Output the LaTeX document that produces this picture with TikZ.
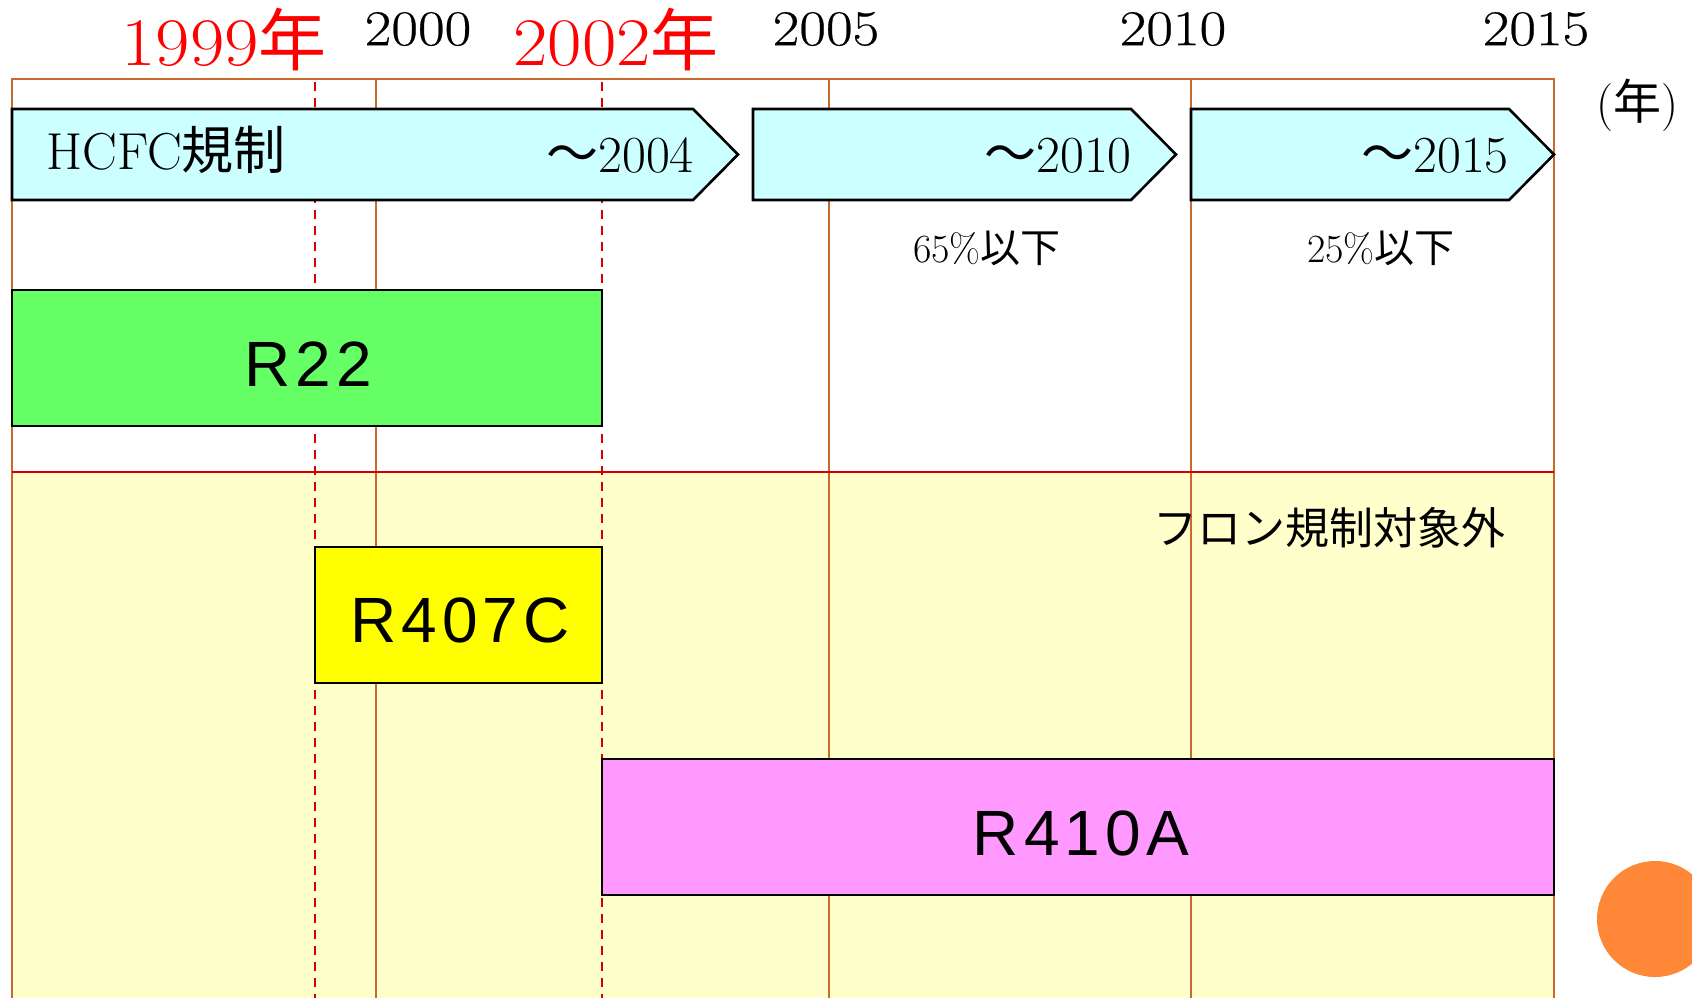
\documentclass[tikz,border=0pt]{standalone}
\usepackage{fontspec}
\newfontfamily\jp{Noto Sans CJK JP}
\newfontfamily\rsans[LetterSpace=8]{Liberation Sans}
\newfontfamily\yrfont[FakeStretch=1.16, FakeBold=0.5]{Latin Modern Roman}
\newfontfamily\ryfont[FakeStretch=1.1]{Latin Modern Roman}
\definecolor{gridc}{RGB}{200,105,45}
\definecolor{redl}{RGB}{210,0,0}
\definecolor{cyanf}{RGB}{204,255,255}
\definecolor{bgy}{RGB}{255,255,204}
\definecolor{greenf}{RGB}{102,255,102}
\definecolor{yellowf}{RGB}{255,255,0}
\definecolor{pinkf}{RGB}{255,153,255}
\definecolor{orangec}{RGB}{255,136,56}
\begin{document}
\begin{tikzpicture}[x=0.5pt,y=-0.5pt,
  gridline/.style={draw=gridc, line width=0.8pt},
  dashline/.style={draw=redl, line width=0.7pt, dash pattern=on 4.5pt off 3.5pt},
  arrowbox/.style={draw=black, fill=cyanf, line width=1.3pt, line join=miter},
  refbox/.style={draw=black, line width=1.1pt},
  yearlbl/.style={font=\yrfont\fontsize{25}{28}\selectfont, inner sep=0pt},
  redyear/.style={font=\ryfont\fontsize{34}{36}\selectfont, inner sep=0pt, text=red},
  hcfclbl/.style={font=\fontsize{26}{30}\selectfont, inner sep=0pt},
  pctlbl/.style={font=\fontsize{20}{24}\selectfont, inner sep=0pt},
  reflbl/.style={font=\rsans\fontsize{32}{34}\selectfont, inner sep=0pt}]
\useasboundingbox (0,0) rectangle (1692,998);
\clip (0,0) rectangle (1692,998);
\fill[white] (0,0) rectangle (1692,998);
\fill[bgy] (12,472) rectangle (1554,998);
% grid
\draw[gridline] (12,998) -- (12,79) -- (1554,79) -- (1554,998);
\foreach \gx in {376,829,1191} \draw[gridline] (\gx,79) -- (\gx,998);
\draw[draw=redl, line width=0.9pt] (12,472) -- (1554,472);
\draw[dashline] (315,82) -- (315,998);
\draw[dashline] (602,82) -- (602,998);
% HCFC arrows
\draw[arrowbox] (12,109) -- (693,109) -- (738,154.5) -- (693,200) -- (12,200) -- cycle;
\draw[arrowbox] (753,109) -- (1131,109) -- (1176,154.5) -- (1131,200) -- (753,200) -- cycle;
\draw[arrowbox] (1191,109) -- (1509,109) -- (1554,154.5) -- (1509,200) -- (1191,200) -- cycle;
% refrigerant boxes
\draw[refbox, fill=greenf] (12,290) rectangle (602,426);
\draw[refbox, fill=yellowf] (315,547) rectangle (602,683);
\draw[refbox, fill=pinkf] (602,759) rectangle (1554,895);
% circle
\fill[orangec] (1655,919) circle (58);
% year labels
\node[redyear] (y1999) at (224,40) {1999{\jp 年}};
\node[yearlbl] (y2000) at (418,29) {2000};
\node[redyear] (y2002) at (616,40) {2002{\jp 年}};
\node[yearlbl] (y2005) at (826,29) {2005};
\node[yearlbl] (y2010) at (1173,29) {2010};
\node[yearlbl] (y2015) at (1536,29) {2015};
\node[font=\fontsize{24}{28}\selectfont, inner sep=0pt] (unit) at (1637,105) {({\jp 年})};
% arrow texts
\node[hcfclbl] (hcfc) at (166,150) {HCFC{\jp 規制}};
\node[hcfclbl] (t2004) at (620,156) {{\jp ～}2004};
\node[hcfclbl] (t2010) at (1058,156) {{\jp ～}2010};
\node[hcfclbl] (t2015) at (1435,156) {{\jp ～}2015};
\node[pctlbl] (p65) at (987,248) {65\%{\jp 以下}};
\node[pctlbl] (p25) at (1381,248) {25\%{\jp 以下}};
\node[font=\jp\fontsize{22}{26}\selectfont, inner sep=0pt] (free) at (1329,528) {フロン規制対象外};
% refrigerant labels
\node[reflbl] (r22) at (308,364) {R22};
\node[reflbl] (r407c) at (460,620) {R407C};
\node[reflbl] (r410a) at (1081,833) {R410A};
\end{tikzpicture}
\end{document}
